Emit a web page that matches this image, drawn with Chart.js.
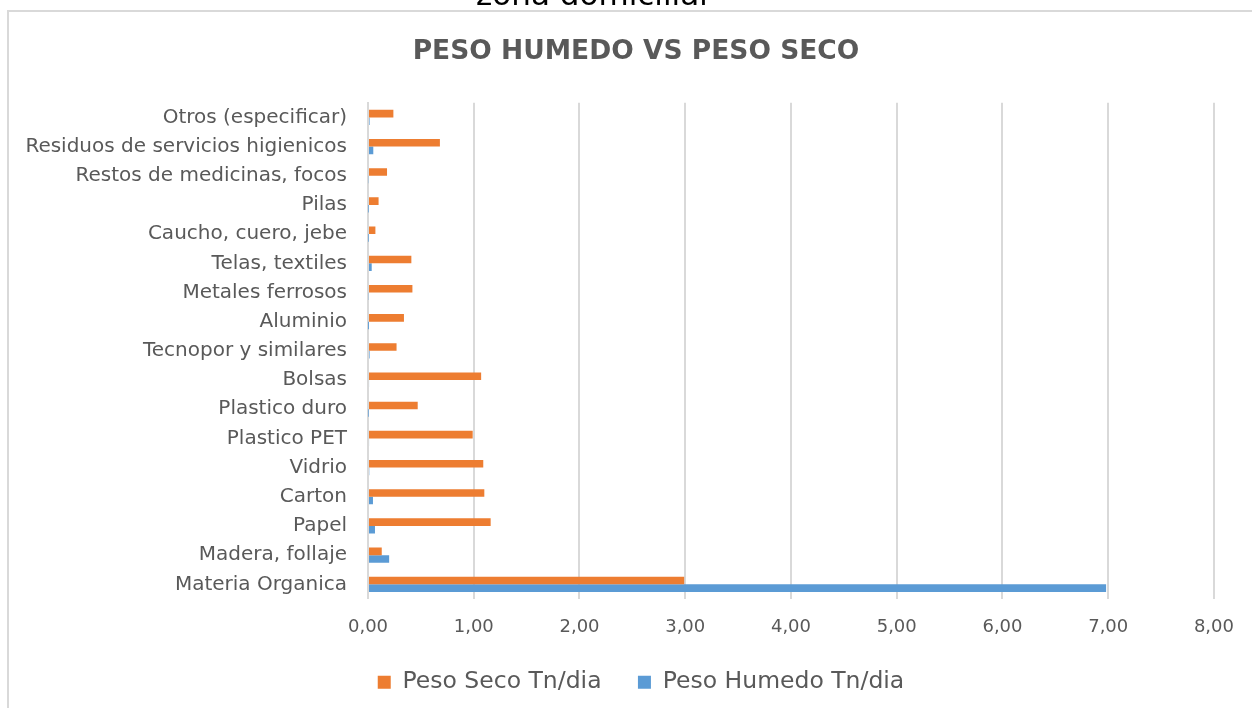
<!DOCTYPE html>
<html>
<head>
<meta charset="utf-8">
<script src="https://cdn.jsdelivr.net/npm/chart.js@4.4.1/dist/chart.umd.min.js"></script>
<style>
  html, body { margin: 0; padding: 0; background: #ffffff; }
  #wrap { position: relative; width: 1252px; height: 708px; }
</style>
</head>
<body>
<div id="wrap"><canvas id="c"></canvas></div>
<script>
const categories = [
  "Otros (especificar)",
  "Residuos de servicios higienicos",
  "Restos de medicinas, focos",
  "Pilas",
  "Caucho, cuero, jebe",
  "Telas, textiles",
  "Metales ferrosos",
  "Aluminio",
  "Tecnopor y similares",
  "Bolsas",
  "Plastico duro",
  "Plastico PET",
  "Vidrio",
  "Carton",
  "Papel",
  "Madera, follaje",
  "Materia Organica"
];
const pesoSeco = [0.24, 0.68, 0.18, 0.10, 0.07, 0.41, 0.42, 0.34, 0.27, 1.07, 0.47, 0.99, 1.09, 1.10, 1.16, 0.13, 2.99];
const pesoHumedo = [0.015, 0.05, 0.007, 0.003, 0.003, 0.035, 0.007, 0.001, 0.015, 0.01, 0.003, 0.01, 0.012, 0.047, 0.066, 0.20, 6.98];
const xTicks = [0, 1, 2, 3, 4, 5, 6, 7, 8];
const chartTitle = "PESO HUMEDO VS PESO SECO";
const cutText = "zona domiciliar";
const seriesNames = ["Peso Seco Tn/dia", "Peso Humedo Tn/dia"];

const FONT = "'DejaVu Sans', sans-serif";
const TXT = "#595959";

const framePlugin = {
  id: 'frame',
  afterLayout(chart) {
    if (chart.titleBlock) { chart.titleBlock.left = 57; }
    if (chart.legend) { chart.legend.left = 67; }
  },
  beforeDraw(chart) {
    const ctx = chart.ctx;
    ctx.save();
    ctx.fillStyle = '#ffffff';
    ctx.fillRect(0, 0, chart.width, chart.height);
    ctx.strokeStyle = '#d9d9d9';
    ctx.lineWidth = 2;
    ctx.beginPath();
    ctx.moveTo(8, 710);
    ctx.lineTo(8, 11);
    ctx.lineTo(1254, 11);
    ctx.stroke();
    ctx.fillStyle = '#000000';
    ctx.font = "31px " + FONT;
    ctx.textAlign = 'center';
    ctx.textBaseline = 'alphabetic';
    ctx.fillText(cutText, 594, 5);
    ctx.restore();
  }
};

new Chart(document.getElementById('c'), {
  type: 'bar',
  data: {
    labels: categories,
    datasets: [
      { label: seriesNames[0], data: pesoSeco, backgroundColor: '#ED7D31', borderWidth: 0 },
      { label: seriesNames[1], data: pesoHumedo, backgroundColor: '#5B9BD5', borderWidth: 0 }
    ]
  },
  options: {
    indexAxis: 'y',
    responsive: true,
    maintainAspectRatio: false,
    animation: false,
    layout: { padding: { left: 10, right: 37, top: 0, bottom: 4 } },
    datasets: { bar: { barPercentage: 1.0, categoryPercentage: 0.52 } },
    plugins: {
      title: {
        display: true,
        text: chartTitle,
        color: TXT,
        font: { family: FONT, size: 26.5, weight: 'bold' },
        padding: { top: 36, bottom: 35 }
      },
      legend: {
        position: 'bottom',
        labels: {
          color: TXT,
          font: { family: FONT, size: 23.5 },
          boxWidth: 13,
          boxHeight: 13,
          padding: 14,
          generateLabels(chart) {
            const items = Chart.defaults.plugins.legend.labels.generateLabels(chart);
            items.forEach((it, i) => { if (i < items.length - 1) it.text = it.text + '   '; });
            return items;
          }
        }
      },
      tooltip: { enabled: false }
    },
    scales: {
      x: {
        min: 0,
        max: 8,
        afterBuildTicks(scale) { scale.ticks = xTicks.map(v => ({ value: v })); },
        ticks: {
          color: TXT,
          font: { family: FONT, size: 18 },
          padding: 18,
          callback: v => v.toFixed(2).replace('.', ',')
        },
        grid: { color: '#d9d9d9', lineWidth: 2, drawTicks: false },
        border: { display: false }
      },
      y: {
        afterFit(scale) { scale.width = 358; },
        ticks: {
          color: TXT,
          font: { family: FONT, size: 20 },
          padding: 21,
          autoSkip: false
        },
        grid: { display: false, drawTicks: false },
        border: { display: true, color: '#d9d9d9', width: 2 }
      }
    }
  },
  plugins: [framePlugin]
});
</script>
</body>
</html>
